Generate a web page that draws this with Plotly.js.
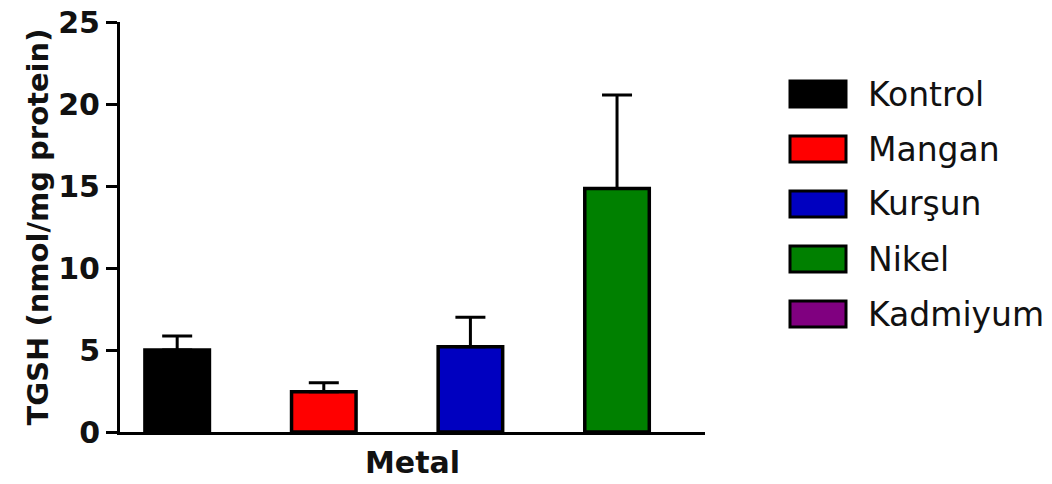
<!DOCTYPE html>
<html>
<head>
<meta charset="utf-8">
<script src="https://cdn.plot.ly/plotly-3.0.1.min.js"></script>
<style>html,body{margin:0;padding:0;background:#fff;}#chart{width:1052px;height:484px;}</style>
</head>
<body>
<div id="chart"></div>
<script>
// Data
const categories = ["Kontrol", "Mangan", "Kurşun", "Nikel", "Kadmiyum"];
const means      = [5.0, 2.45, 5.2, 14.85, null];
const sdErrors   = [0.85, 0.55, 1.8, 5.7, null];
const colors     = ["#000000", "#ff0000", "#0000c0", "#008000", "#800080"];
const yTickVals  = [0, 5, 10, 15, 20, 25];

const FONT = "DejaVu Sans, Verdana, sans-serif";
const W = 1052, H = 484;
const M = {l: 120, r: 347, t: 22, b: 52};

const traces = categories.map((c, i) => ({
  type: "bar",
  name: c,
  x: means[i] === null ? [] : [i],
  y: means[i] === null ? [] : [means[i]],
  width: 0.44,
  marker: {color: colors[i], line: {color: "#000", width: 3.5}},
  error_y: {type: "data", symmetric: false,
            array: sdErrors[i] === null ? [] : [sdErrors[i]],
            arrayminus: sdErrors[i] === null ? [] : [0],
            color: "#000", thickness: 3, width: 15},
  showlegend: false,
  hoverinfo: "none"
}));

// Legend drawn in paper coordinates (layout, not data)
const pw = W - M.l - M.r, ph = H - M.t - M.b;
const px = v => (v - M.l) / pw;
const py = v => (H - M.b - v) / ph;
const shapes = [], annotations = [];
categories.forEach((c, i) => {
  const cy = 94 + i * 55;
  shapes.push({type: "rect", xref: "paper", yref: "paper",
    x0: px(790), x1: px(846), y0: py(cy + 13), y1: py(cy - 13),
    fillcolor: colors[i], line: {color: "#000", width: 3}});
  annotations.push({xref: "paper", yref: "paper", x: px(866), y: py(cy),
    xanchor: "left", yanchor: "middle", text: c, showarrow: false,
    font: {family: FONT, size: 33, color: "#111"}});
});

const layout = {
  width: W, height: H,
  margin: M,
  paper_bgcolor: "#fff", plot_bgcolor: "#fff",
  barmode: "overlay",
  showlegend: false,
  font: {family: FONT, color: "#111"},
  xaxis: {range: [-0.39, 3.6], showline: true, linecolor: "#000", linewidth: 3,
          showticklabels: false, ticks: "", showgrid: false, zeroline: false,
          title: {text: "<b>Metal</b>", font: {family: FONT, size: 30, color: "#111"}, standoff: 18}},
  yaxis: {range: [0, 25], tickvals: yTickVals, ticktext: yTickVals.map(v => "<b>" + v + "</b>"),
          showline: true, linecolor: "#000", linewidth: 3,
          ticks: "outside", ticklen: 11, tickwidth: 3, tickcolor: "#000",
          tickfont: {family: FONT, size: 30, color: "#111"},
          showgrid: false, zeroline: false,
          title: {text: "<b>TGSH (nmol/mg protein)</b>", font: {family: FONT, size: 29, color: "#111"}, standoff: 2}},
  shapes: shapes,
  annotations: annotations
};

Plotly.newPlot("chart", traces, layout, {displayModeBar: false, staticPlot: true});
</script>
</body>
</html>
